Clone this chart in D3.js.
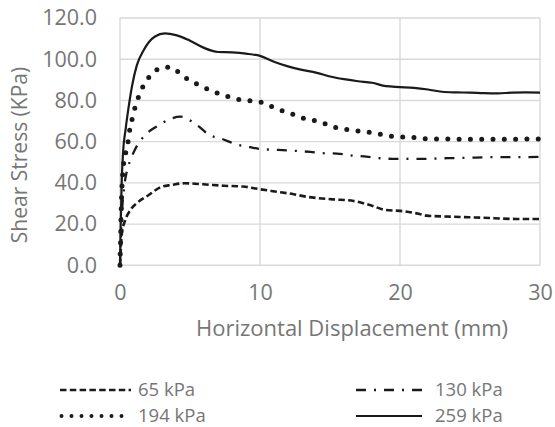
<!DOCTYPE html>
<html>
<head>
<meta charset="utf-8">
<script src="https://cdn.jsdelivr.net/npm/d3@7"></script>
<style>
  body { margin: 0; background: #fff; }
  text { font-family: "Open Sans", sans-serif; fill: #767676; }
</style>
</head>
<body>
<div id="chart"></div>
<script>
// data (x = displacement mm, y = shear stress kPa)
var s65 = [[0,0],[0.14,15.7],[0.38,22],[0.74,26.8],[1.33,30.9],[2.05,34.1],[2.9,37.9],[3.7,39],
  [4.6,39.8],[5.95,39.3],[7.4,38.6],[8.8,38.2],[10,36.9],[11.2,35.7],[12.4,34.5],[13.3,33.3],
  [14,32.7],[15.2,32],[16.7,31.2],[17.9,29.1],[19,26.8],[20,26.4],[21.2,25.2],[21.9,24.1],
  [23.6,23.6],[25.9,23.1],[28.3,22.5],[30,22.5]];
var s130 = [[0,0],[0.1,20],[0.3,38],[0.5,46],[0.74,51],[1.1,56.6],[1.8,63.2],[2.6,67.3],[3.6,71],
  [4.3,72.1],[5.5,68],[6.4,63.2],[7.3,61.3],[8.3,58.7],[9.3,57.3],[10.2,56.3],[11.3,56],
  [12.6,55.5],[13.6,55],[14.5,54.4],[15.5,54.2],[16.7,53.2],[17.6,52.7],[18.7,51.9],[19.8,51.6],
  [20.7,51.7],[21.8,51.6],[22.9,51.9],[23.8,52],[25,52.2],[25.9,52.4],[27,52.5],[28.1,52.5],[30,52.6]];
var s194 = [[0,0],[0.05,15],[0.1,30],[0.2,45],[0.43,55.4],[0.6,61],[0.71,66.5],[0.9,71.8],[1.1,77.3],
  [1.36,82.3],[1.7,87.5],[2.17,92],[2.8,95.4],[3.6,96.2],[4.26,93.3],[4.9,90],[5.64,87.5],[6.4,85.1],
  [7.1,83.2],[7.95,81.4],[8.7,80.2],[9.55,79.6],[10.4,78.5],[11.1,76.2],[11.9,74.3],[12.7,72.5],
  [13.4,70.6],[14.2,70],[15,67.6],[15.8,66.3],[16.6,65.5],[17.4,64.9],[18.2,64.1],[19,63.1],
  [19.8,62.3],[20.6,62.3],[21.4,61.6],[22.3,61.3],[23.1,61.3],[24,61.2],[26,61.2],[28,61.2],[30,61.3]];
var s259 = [[0,0],[0.05,20],[0.12,40],[0.22,55],[0.4,66],[0.6,76],[0.86,87],[1.2,97],[1.7,104.5],
  [2.5,111],[3.2,112.5],[4,111.7],[5,109],[6,105.5],[7,103.5],[8,103.3],[9,102.7],[10,101.6],
  [11,98.8],[12,96.5],[13,94.8],[14,93.5],[15,91.6],[16,90.3],[17,89.3],[18,88.6],[19,86.9],
  [20,86.5],[21,86.1],[22,85.3],[23,84.2],[24,83.9],[25,83.8],[26,83.5],[27,83.4],[28,83.8],
  [29,83.9],[30,83.8]];

var seriesNames = ["65 kPa", "130 kPa", "194 kPa", "259 kPa"];
var xTicks = [0, 10, 20, 30];
var yTicks = [0, 20, 40, 60, 80, 100, 120];

var w = 555, h = 427;
var x = d3.scaleLinear().domain([0, 30]).range([120, 540]);
var y = d3.scaleLinear().domain([0, 120]).range([265.3, 18]);

var svg = d3.select("#chart").append("svg")
  .attr("width", w)
  .attr("height", h);

// grid
svg.append("g")
  .selectAll("line")
  .data(yTicks)
  .enter().append("line")
  .attr("x1", x(0)).attr("x2", x(30))
  .attr("y1", (d) => y(d)).attr("y2", (d) => y(d))
  .attr("stroke", "#d9d9d9")
  .attr("stroke-width", 1.4);

svg.append("g")
  .selectAll("line")
  .data(xTicks)
  .enter().append("line")
  .attr("x1", (d) => x(d)).attr("x2", (d) => x(d))
  .attr("y1", y(0)).attr("y2", y(120))
  .attr("stroke", "#d9d9d9")
  .attr("stroke-width", 1.4);

// axes, labels only
var yAxis = svg.append("g")
  .attr("transform", "translate(" + x(0) + ",0)")
  .call(d3.axisLeft(y).tickValues(yTicks).tickFormat(d3.format(".1f")).tickSize(0).tickPadding(23));
yAxis.select(".domain").remove();
yAxis.selectAll("text").style("font-size", "21.5px").attr("fill", "#767676").attr("font-family", null);

var xAxis = svg.append("g")
  .attr("transform", "translate(0," + y(0) + ")")
  .call(d3.axisBottom(x).tickValues(xTicks).tickFormat(d3.format("d")).tickSize(0).tickPadding(19));
xAxis.select(".domain").remove();
xAxis.selectAll("text").style("font-size", "21.5px").attr("fill", "#767676").attr("font-family", null);

svg.append("text")
  .attr("x", 352).attr("y", 328)
  .attr("dy", ".35em")
  .attr("text-anchor", "middle")
  .style("font-size", "22px")
  .text("Horizontal Displacement (mm)");

svg.append("text")
  .attr("transform", "translate(20,155) rotate(-90)")
  .attr("dy", ".35em")
  .attr("text-anchor", "middle")
  .style("font-size", "21px")
  .text("Shear Stress (KPa)");

// series
var styles = [
  { dash: "6.5 3.3", width: 2.6, cap: "butt" },
  { dash: "10 8 2 8", width: 2.3, cap: "butt" },
  { dash: "0 11.3", width: 5, cap: "round" },
  { dash: null, width: 2.2, cap: "butt" }
];
var allSeries = [s65, s130, s194, s259];

var line = d3.line()
  .x((d) => x(d[0]))
  .y((d) => y(d[1]))
  .curve(d3.curveMonotoneX);

svg.append("g")
  .selectAll("path")
  .data(allSeries)
  .enter().append("path")
  .attr("d", line)
  .attr("fill", "none")
  .attr("stroke", "#1a1a1a")
  .attr("stroke-width", (d, i) => styles[i].width)
  .attr("stroke-dasharray", (d, i) => styles[i].dash)
  .attr("stroke-linecap", (d, i) => styles[i].cap)
  .attr("stroke-linejoin", "round");

// legend
var legPos = [[60, 390], [356, 390], [60, 416], [356, 416]];
var leg = svg.append("g")
  .selectAll("g")
  .data(seriesNames)
  .enter().append("g")
  .attr("transform", (d, i) => "translate(" + legPos[i][0] + "," + legPos[i][1] + ")");

leg.append("line")
  .attr("x1", (d, i) => i == 2 ? 1.5 : 0)
  .attr("x2", (d, i) => i % 2 == 0 ? 71 : 66)
  .attr("stroke", "#1a1a1a")
  .attr("stroke-width", (d, i) => i == 2 ? 4 : styles[i].width)
  .attr("stroke-dasharray", (d, i) => i == 2 ? "0 10" : styles[i].dash)
  .attr("stroke-linecap", (d, i) => styles[i].cap);

leg.append("text")
  .attr("x", (d, i) => i % 2 == 0 ? 78 : 79)
  .attr("dy", ".35em")
  .style("font-size", "18.5px")
  .text((d) => d);
</script>
</body>
</html>
